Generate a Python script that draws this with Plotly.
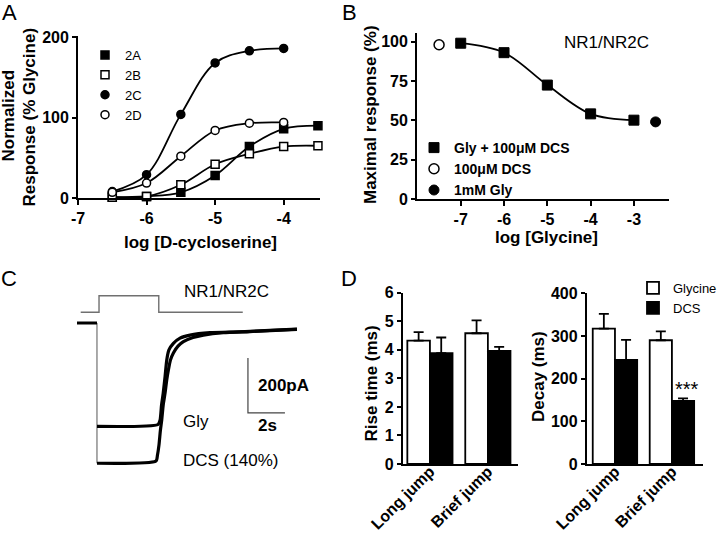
import plotly.graph_objects as go

W, H = 720, 539
def fx(px):
    return px / W
def fy(py):
    return 1 - py / H

FONT = "Liberation Sans, Arial, sans-serif"

# ---------------- Panel A data ----------------
log_dcs = [-6.5, -6.0, -5.5, -5.0, -4.5, -4.0, -3.5]
resp_2A = [1, 2, 7, 28, 64, 86, 90]
resp_2B = [1, 2, 16.5, 42, 55, 64, 65]
log_dcs_cd = [-6.5, -6.0, -5.5, -5.0, -4.5, -4.0]
resp_2C = [8, 29, 104, 168, 183, 186]
resp_2D = [7, 18.6, 52, 84, 93, 94]
ticksA_x = [-7, -6, -5, -4]
ticksA_y = [0, 100, 200]

# ---------------- Panel B data ----------------
log_gly = [-7, -6, -5, -4, -3]
max_resp = [99, 93, 72.4, 54.1, 50.1]
dcs_only_x = [-7.5]
dcs_only_y = [98]
gly_only_x = [-2.5]
gly_only_y = [49]
ticksB_x = [-7, -6, -5, -4, -3]
ticksB_y = [0, 25, 50, 75, 100]

# ---------------- Panel C data (time s, current pA) ----------------
base_t = [0.0, 1.08]
base_i = [0, 0]
gly_t = [1.08, 4.38, 4.49, 4.57, 4.66, 4.76, 4.85, 4.97, 5.21, 5.57, 6.11, 7.19, 8.81, 10.43, 11.89]
gly_i = [-376, -369, -353, -298, -255, -195, -135, -98, -74, -55, -44, -35, -32, -27, -22]
dcs_t = [1.08, 4.27, 4.35, 4.43, 4.51, 4.58, 4.66, 4.76, 4.85, 4.94, 5.05, 5.21, 5.46, 5.75,
         6.27, 6.83, 7.91, 9.35, 11.89]
dcs_i = [-510, -502, -480, -444, -389, -353, -298, -255, -207, -171, -135, -109, -84, -68,
         -53, -44, -35, -31, -23]
stim_t = [0.2, 1.19, 1.19, 4.42, 4.42, 8.96]
stim_level = [0, 0, 1, 1, 0, 0]
scale_pA = 200
scale_s = 2

# ---------------- Panel D data ----------------
jumps = ["Long jump", "Brief jump"]
rise_gly = [4.32, 4.58]
rise_gly_err = [0.30, 0.45]
rise_dcs = [3.88, 3.96]
rise_dcs_err = [0.55, 0.14]
decay_gly = [317, 290]
decay_gly_err = [35, 21]
decay_dcs = [244, 148]
decay_dcs_err = [47, 6]
ticksD1_y = [0, 1, 2, 3, 4, 5, 6]
ticksD2_y = [0, 100, 200, 300, 400]

def bold(vals):
    return [f"<b>{v}</b>" for v in vals]

fig = go.Figure()

# ---- Panel A traces
seriesA = [
    ("2A", log_dcs, resp_2A, "square", "black"),
    ("2B", log_dcs, resp_2B, "square", "white"),
    ("2C", log_dcs_cd, resp_2C, "circle", "black"),
    ("2D", log_dcs_cd, resp_2D, "circle", "white"),
]
for name, xs, ys, sym, fill in seriesA:
    fig.add_trace(go.Scatter(x=xs, y=ys, mode="lines", line=dict(color="black", width=1.8, shape="spline", smoothing=1.0),
                             xaxis="x", yaxis="y", showlegend=False, hoverinfo="skip"))
for name, xs, ys, sym, fill in seriesA:
    fig.add_trace(go.Scatter(x=xs, y=ys, mode="markers", name=name,
                             marker=dict(symbol=sym, size=8, color=fill, line=dict(color="black", width=1.5)),
                             xaxis="x", yaxis="y", legend="legend", cliponaxis=False))

# ---- Panel B traces
fig.add_trace(go.Scatter(x=log_gly, y=max_resp, mode="lines", line=dict(color="black", width=1.8, shape="spline", smoothing=1.0),
                         xaxis="x2", yaxis="y2", showlegend=False))
fig.add_trace(go.Scatter(x=log_gly, y=max_resp, mode="markers", name="<b>Gly + 100\u03bcM DCS</b>",
                         marker=dict(symbol="square", size=10, color="black", line=dict(color="black", width=1)),
                         xaxis="x2", yaxis="y2", legend="legend2", cliponaxis=False))
fig.add_trace(go.Scatter(x=dcs_only_x, y=dcs_only_y, mode="markers", name="<b>100\u03bcM DCS</b>",
                         marker=dict(symbol="circle", size=10, color="white", line=dict(color="black", width=1.5)),
                         xaxis="x2", yaxis="y2", legend="legend2", cliponaxis=False))
fig.add_trace(go.Scatter(x=gly_only_x, y=gly_only_y, mode="markers", name="<b>1mM Gly</b>",
                         marker=dict(symbol="circle", size=10, color="black", line=dict(color="black", width=1)),
                         xaxis="x2", yaxis="y2", legend="legend2", cliponaxis=False))

# ---- Panel C traces
fig.add_trace(go.Scatter(x=stim_t, y=stim_level, mode="lines", line=dict(color="#707070", width=1.4),
                         xaxis="x3", yaxis="y4", showlegend=False))
fig.add_trace(go.Scatter(x=[base_t[1], base_t[1]], y=[base_i[1], min(dcs_i)], mode="lines",
                         line=dict(color="#555555", width=1), xaxis="x3", yaxis="y3", showlegend=False))
fig.add_trace(go.Scatter(x=base_t, y=base_i, mode="lines", line=dict(color="black", width=3),
                         xaxis="x3", yaxis="y3", showlegend=False))
fig.add_trace(go.Scatter(x=gly_t, y=gly_i, mode="lines", line=dict(color="black", width=3.2, shape="spline", smoothing=0.6),
                         xaxis="x3", yaxis="y3", showlegend=False))
fig.add_trace(go.Scatter(x=dcs_t, y=dcs_i, mode="lines", line=dict(color="black", width=3.2, shape="spline", smoothing=0.6),
                         xaxis="x3", yaxis="y3", showlegend=False))
SB_T, SB_I = 9.24, -327
fig.add_trace(go.Scatter(x=[SB_T, SB_T, SB_T + scale_s], y=[SB_I + scale_pA, SB_I, SB_I], mode="lines",
                         line=dict(color="#444444", width=1.2), xaxis="x3", yaxis="y3", showlegend=False))

# ---- Panel D traces
err_style = dict(type="data", symmetric=False, color="black", thickness=1.8, width=5)
fig.add_trace(go.Bar(x=jumps, y=rise_gly, name="Glycine", marker=dict(color="white", line=dict(color="black", width=1.8)),
                     error_y=dict(array=rise_gly_err, arrayminus=[0, 0], **err_style),
                     xaxis="x5", yaxis="y5", showlegend=False, offsetgroup="g"))
fig.add_trace(go.Bar(x=jumps, y=rise_dcs, name="DCS", marker=dict(color="black", line=dict(color="black", width=1.8)),
                     error_y=dict(array=rise_dcs_err, arrayminus=[0, 0], **err_style),
                     xaxis="x5", yaxis="y5", showlegend=False, offsetgroup="d"))
fig.add_trace(go.Bar(x=jumps, y=decay_gly, name="Glycine", marker=dict(color="white", line=dict(color="black", width=1.8)),
                     error_y=dict(array=decay_gly_err, arrayminus=[0, 0], **err_style),
                     xaxis="x6", yaxis="y6", legend="legend3", offsetgroup="g"))
fig.add_trace(go.Bar(x=jumps, y=decay_dcs, name="DCS", marker=dict(color="black", line=dict(color="black", width=1.8)),
                     error_y=dict(array=decay_dcs_err, arrayminus=[0, 0], **err_style),
                     xaxis="x6", yaxis="y6", legend="legend3", offsetgroup="d"))

tickf = dict(family=FONT, size=16, color="black")
axis_common = dict(showline=True, linecolor="black", linewidth=1.8, ticks="outside", tickcolor="black",
                   tickwidth=1.8, showgrid=False, zeroline=False, tickfont=tickf, automargin=False)
hidden = dict(visible=False, showgrid=False, zeroline=False, automargin=False)
cat_axis = {**axis_common, "ticks": "", "tickfont": dict(family=FONT, size=16, color="black"),
            "ticklabelstandoff": -10}

layout = dict(
    width=W, height=H, margin=dict(l=0, r=0, t=0, b=0, pad=0, autoexpand=False),
    paper_bgcolor="white", plot_bgcolor="rgba(0,0,0,0)",
    font=dict(family=FONT, color="black"),
    barmode="group", bargap=0.22, bargroupgap=0,
    xaxis=dict(domain=[fx(78), fx(320)], range=[-7, -3.47], tickvals=ticksA_x, ticktext=bold(ticksA_x), ticklen=5,
               anchor="y", **axis_common),
    yaxis=dict(domain=[fy(198), fy(36)], range=[0, 201.5], tickvals=ticksA_y, ticktext=bold(ticksA_y), ticklen=4,
               anchor="x", **axis_common),
    xaxis2=dict(domain=[fx(417), fx(669)], range=[-8.01, -2.19], tickvals=ticksB_x, ticktext=bold(ticksB_x), ticklen=5,
                anchor="y2", **axis_common),
    yaxis2=dict(domain=[fy(199), fy(33.3)], range=[0, 105.3], tickvals=ticksB_y, ticktext=bold(ticksB_y), ticklen=4,
                anchor="x2", **axis_common),
    xaxis3=dict(domain=[fx(70), fx(305)], range=[(70 - 77) / 18.5, (305 - 77) / 18.5], anchor="y3", **hidden),
    yaxis3=dict(domain=[fy(480), fy(318)], range=[(323 - 480) / 0.275, (323 - 318) / 0.275], anchor="x3", **hidden),
    yaxis4=dict(domain=[fy(316), fy(292)], range=[-0.223, 1.223], anchor="x3", **hidden),
    xaxis5=dict(domain=[fx(402.7), fx(518)], range=[-0.47, 1.52], type="category", anchor="y5", tickangle=-45,
                tickvals=jumps, ticktext=bold(jumps), **cat_axis),
    yaxis5=dict(domain=[fy(464), fy(292.7)], range=[0, 6], tickvals=ticksD1_y, ticktext=bold(ticksD1_y), ticklen=4,
                anchor="x5", **axis_common),
    xaxis6=dict(domain=[fx(586.7), fx(702.7)], range=[-0.496, 1.54], type="category", anchor="y6", tickangle=-45,
                tickvals=jumps, ticktext=bold(jumps), **cat_axis),
    yaxis6=dict(domain=[fy(464), fy(293.3)], range=[0, 400], tickvals=ticksD2_y, ticktext=bold(ticksD2_y), ticklen=4,
                anchor="x6", **axis_common),
    legend=dict(x=fx(85), y=fy(40), xanchor="left", yanchor="top", bgcolor="rgba(0,0,0,0)",
                font=dict(family=FONT, size=13, color="black"), tracegroupgap=0),
    legend2=dict(x=fx(414), y=fy(132), xanchor="left", yanchor="top", bgcolor="rgba(0,0,0,0)",
                 font=dict(family=FONT, size=14, color="black"), tracegroupgap=0),
    legend3=dict(x=fx(633), y=fy(273), xanchor="left", yanchor="top", bgcolor="rgba(0,0,0,0)",
                 font=dict(family=FONT, size=13, color="black"), tracegroupgap=0),
)
fig.update_layout(**layout)

def ann(text, x, y, size, bold_=False, angle=0, xanchor="center", yanchor="middle"):
    t = f"<b>{text}</b>" if bold_ else text
    fig.add_annotation(text=t, x=fx(x), y=fy(y), xref="paper", yref="paper", showarrow=False,
                       font=dict(family=FONT, size=size, color="black"), textangle=angle,
                       xanchor=xanchor, yanchor=yanchor)

# panel letters
ann("A", 9, 13, 22)
ann("B", 349, 13, 22)
ann("C", 9, 278, 22)
ann("D", 349, 278, 22)
# panel A titles
ann("Normalized", 8.5, 116, 17, bold_=True, angle=-90)
ann("Response (% Glycine)", 28.5, 117, 17, bold_=True, angle=-90)
ann("log [D-cycloserine]", 200, 242, 17, bold_=True)
# panel B titles
ann("Maximal response (%)", 370, 114, 17, bold_=True, angle=-90)
ann("log [Glycine]", 546, 238, 17, bold_=True)
ann("NR1/NR2C", 606, 43, 17)
# panel C texts
ann("NR1/NR2C", 226, 291, 17)
ann("Gly", 181, 421, 17, xanchor="left")
ann("DCS (140%)", 181, 460, 17, xanchor="left")
ann("200pA", 256, 385, 17, bold_=True, xanchor="left")
ann("2s", 256, 425, 17, bold_=True, xanchor="left")
# panel D texts
ann("Rise time (ms)", 370.5, 383, 17, bold_=True, angle=-90)
ann("Decay (ms)", 538, 377, 17, bold_=True, angle=-90)
ann("***", 687, 389, 20)

fig.write_html("out.html", config={"displayModeBar": False},
               post_script="document.body.style.margin='0px';document.body.style.overflow='hidden';")
